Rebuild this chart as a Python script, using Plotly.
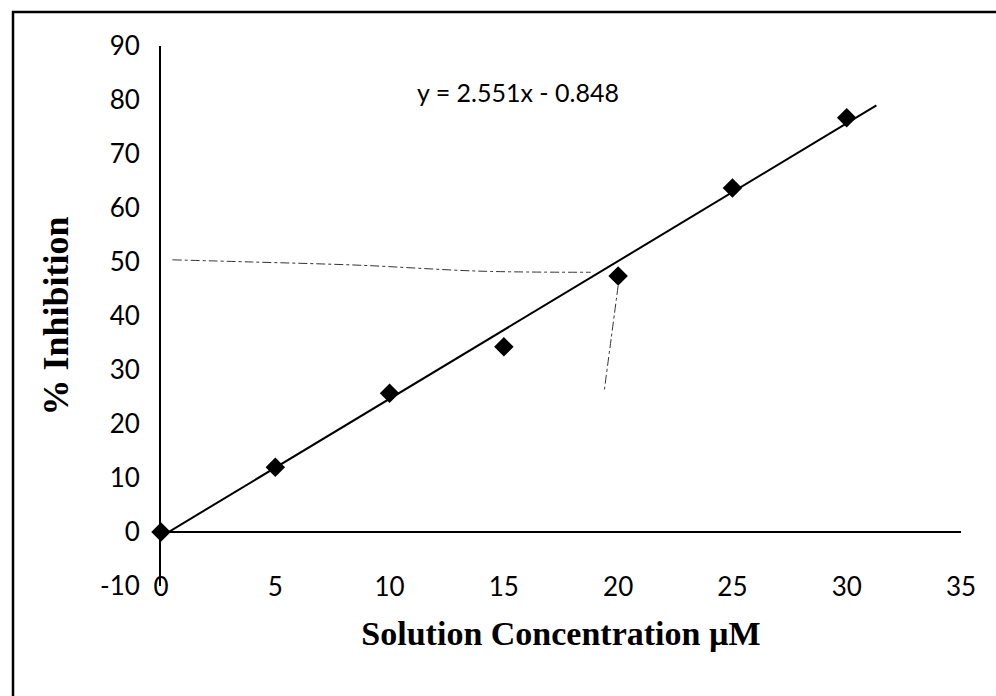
import plotly.graph_objects as go

# Measured inhibition at each solution concentration
concentration_uM = [0, 5, 10, 15, 20, 25, 30]
inhibition_pct = [0.0, 12.0, 25.7, 34.3, 47.4, 63.7, 76.7]

# Linear fit shown on the chart
fit_slope = 2.551
fit_intercept = -0.848
fit_x = [0, 31.3]

# Hand-drawn guides marking 50 % inhibition
guide_h_x = [0.5, 4.0, 8.7, 14.0, 18.8]
guide_h_y = [50.4, 50.0, 49.4, 48.3, 48.1]
guide_v_x = [20.0, 19.7, 19.4]
guide_v_y = [45.6, 36.0, 26.4]

x_ticks = [0, 5, 10, 15, 20, 25, 30, 35]
y_ticks = [-10, 0, 10, 20, 30, 40, 50, 60, 70, 80, 90]

tick_font = dict(family="Lato, 'Open Sans', sans-serif", size=26, color="black")
title_font = dict(family="'Liberation Serif', 'Times New Roman', serif", size=34, color="black")

fig = go.Figure()

fig.add_trace(go.Scatter(
    x=guide_h_x, y=guide_h_y, mode="lines",
    line=dict(color="#333", width=1, dash="dashdot", shape="spline"),
    hoverinfo="skip", showlegend=False,
))
fig.add_trace(go.Scatter(
    x=guide_v_x, y=guide_v_y, mode="lines",
    line=dict(color="#333", width=1, dash="dashdot", shape="spline"),
    hoverinfo="skip", showlegend=False,
))

fig.add_trace(go.Scatter(
    x=fit_x, y=[fit_slope * v + fit_intercept for v in fit_x],
    mode="lines", line=dict(color="black", width=2),
    showlegend=False,
))

fig.add_trace(go.Scatter(
    x=concentration_uM, y=inhibition_pct, mode="markers",
    marker=dict(symbol="diamond", size=15, color="black"),
    cliponaxis=False, showlegend=False,
))

fig.add_annotation(
    x=11.1, y=81.5, xref="x", yref="y", xanchor="left", yanchor="middle",
    text=f"y = {fit_slope}x - {abs(fit_intercept)}",
    showarrow=False, font=dict(family="Lato, 'Open Sans', sans-serif", size=25, color="black"),
)

# Outer frame around the chart
fig.add_shape(
    type="rect", xref="paper", yref="paper",
    x0=-0.185, x1=1.2, y0=-0.4, y1=1.063,
    line=dict(color="black", width=2.5), fillcolor="rgba(0,0,0,0)",
)

fig.update_xaxes(
    range=[0, 35], tickvals=x_ticks, ticktext=[str(v) for v in x_ticks],
    showgrid=False, zeroline=False, showline=False, ticks="",
    tickfont=tick_font, ticklabelstandoff=-17,
    title=dict(text="<b>Solution Concentration µM</b>", font=title_font, standoff=20),
)
fig.update_yaxes(
    range=[-10, 90], tickvals=y_ticks, ticktext=[str(v) for v in y_ticks],
    showgrid=False, zeroline=True, zerolinecolor="black", zerolinewidth=2,
    showline=True, linecolor="black", linewidth=2, ticks="",
    tickfont=tick_font, ticklabelstandoff=14,
    title=dict(text="<b>% Inhibition</b>", font=dict(title_font, size=36), standoff=20),
)

fig.update_layout(
    width=996, height=696,
    margin=dict(l=161, r=35, t=46, b=110),
    paper_bgcolor="white", plot_bgcolor="white",
)

fig.write_html("out.html")
